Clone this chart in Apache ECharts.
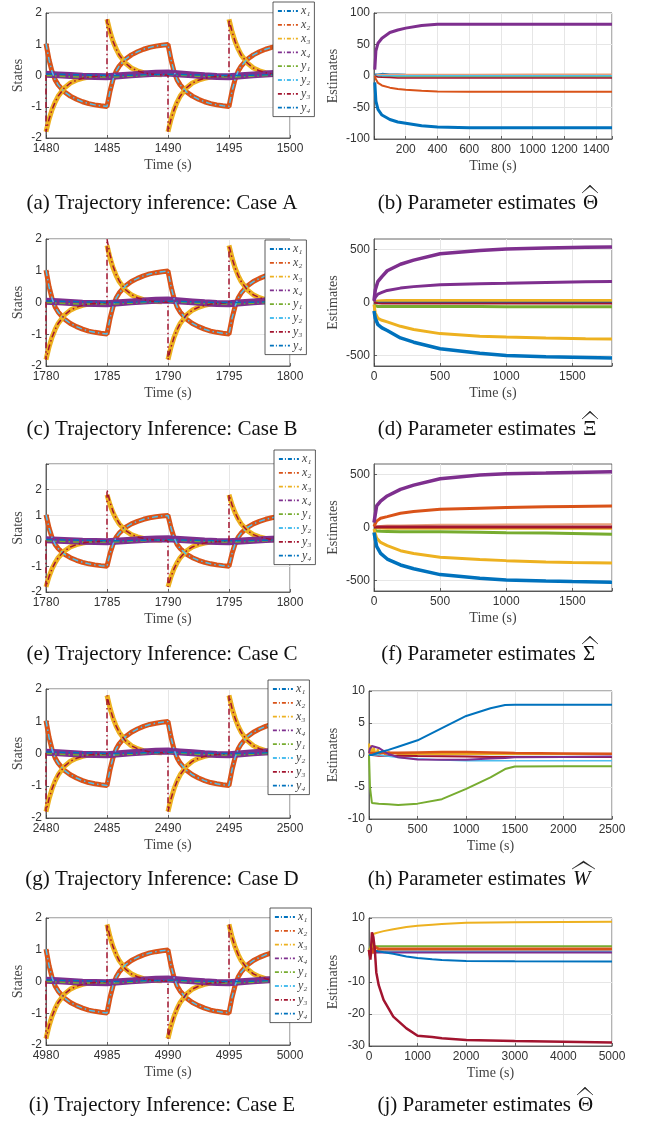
<!DOCTYPE html>
<html>
<head>
<meta charset="utf-8">
<script src="https://cdn.jsdelivr.net/npm/echarts@6.0.0/dist/echarts.min.js"></script>
<style>
html,body{margin:0;padding:0;background:#fff;}
#fig{width:646px;height:1121px;}
</style>
</head>
<body>
<div id="fig"></div>
<script>
"use strict";
// matlab default colour order
var C_BLUE = '#0072BD', C_ORANGE = '#D95319', C_YELLOW = '#EDB120', C_PURPLE = '#7E2F8E',
    C_GREEN = '#77AC30', C_CYAN = '#4DBEEE', C_WINE = '#A2142F';
var AX = '#404040', GRIDC = '#e6e6e6';

/* ---------- trajectory plots (left column) ---------- */
// seconds after the start of each 20 s window (repeated time = jump)
var tFast = [0,0,0.25,0.5,0.75,1,1.5,2,2.5,3,3.5,4,4.5,
             5,5,5.25,5.5,5.75,6,6.5,7,7.5,8,8.5,9,9.5,
             10,10,10.25,10.5,10.75,11,11.5,12,12.5,13,13.5,14,14.5,
             15,15,15.25,15.5,15.75,16,16.5,17,17.5,18,18.5,19,19.5,
             20];
var x2Vals = [1.02,1.02,0.5,0.12,-0.14,-0.3,-0.52,-0.66,-0.76,-0.84,-0.9,-0.94,-0.97,
              -0.99,-0.99,-0.5,-0.12,0.14,0.3,0.52,0.66,0.76,0.84,0.9,0.94,0.97,
              0.99,0.99,0.5,0.12,-0.14,-0.3,-0.52,-0.66,-0.76,-0.84,-0.9,-0.94,-0.97,
              -0.99,-0.99,-0.5,-0.12,0.14,0.3,0.52,0.66,0.76,0.84,0.9,0.94,0.97,
              0.99];
var x3Vals = [null,-1.8,-1.4,-1.09,-0.85,-0.66,-0.4,-0.24,-0.15,-0.09,-0.05,-0.03,-0.02,
              null,1.8,1.4,1.09,0.85,0.66,0.4,0.24,0.15,0.09,0.05,0.03,0.02,
              null,-1.8,-1.4,-1.09,-0.85,-0.66,-0.4,-0.24,-0.15,-0.09,-0.05,-0.03,-0.02,
              null,1.8,1.4,1.09,0.85,0.66,0.4,0.24,0.15,0.09,0.05,0.03,0.02,
              0.01];
var y3ValsA = [0.02,-1.8,-1.4,-1.09,-0.85,-0.66,-0.4,-0.24,-0.15,-0.09,-0.05,-0.03,-0.02,
               -0.01,1.8,1.4,1.09,0.85,0.66,0.4,0.24,0.15,0.09,0.05,0.03,0.02,
               0.01,-1.8,-1.4,-1.09,-0.85,-0.66,-0.4,-0.24,-0.15,-0.09,-0.05,-0.03,-0.02,
               -0.01,1.8,1.4,1.09,0.85,0.66,0.4,0.24,0.15,0.09,0.05,0.03,0.02,
               0.01];
var y3ValsB = [0.02,-1.8,-1.4,-1.09,-0.85,-0.66,-0.4,-0.24,-0.15,-0.09,-0.05,-0.03,-0.02,
               -0.01,2.0,1.5,1.14,0.88,0.68,0.41,0.25,0.15,0.09,0.05,0.03,0.02,
               0.01,-1.8,-1.4,-1.09,-0.85,-0.66,-0.4,-0.24,-0.15,-0.09,-0.05,-0.03,-0.02,
               -0.01,1.8,1.4,1.09,0.85,0.66,0.4,0.24,0.15,0.09,0.05,0.03,0.02,
               0.01];
var tSlow = [0,1,2,3,4,5,6,7,8,9,10,11,12,13,14,15,16,17,18,19,20];
var x1Vals = [0.06,0.05,0.03,0.02,0.01,0,-0.01,0,0.02,0.04,0.05,0.04,0.02,0.01,0,-0.01,0,0.02,0.03,0.05,0.06];
var x4Vals = [0.04,0.02,0,-0.02,-0.03,-0.04,-0.01,0.02,0.05,0.07,0.08,0.05,0.02,-0.01,-0.03,-0.04,-0.01,0.02,0.05,0.07,0.08];
var y1Vals = [0,-0.02,-0.04,-0.05,-0.05,-0.05,-0.04,-0.02,0,0.02,0.03,0.01,-0.01,-0.03,-0.04,-0.05,-0.04,-0.02,0,0.02,0.03];
var y4Vals = [0.05,0.04,0.03,0.02,0.01,0,0,0.01,0.02,0.03,0.04,0.03,0.02,0.01,0,0,0,0.01,0.02,0.04,0.05];
var stateNames = ['x\u2081','x\u2082','x\u2083','x\u2084','y\u2081','y\u2082','y\u2083','y\u2084'];
var windowStarts = [1480, 1780, 1780, 2480, 4980];

/* ---------- parameter estimate plots (right column) ---------- */
// (b) Theta, case A
var tThA = [5, 12, 25, 50, 100, 150, 200, 300, 400, 600, 1000, 1500];
var thA_purple = [10, 40, 52, 60, 69, 73, 76, 80, 82, 82, 82, 82];
var thA_blue = [-10, -40, -53, -62, -69, -73, -75, -79, -81, -82, -82, -82];
var thA_orange = [0, -5, -11, -15, -18.5, -20.5, -22, -23.5, -24.5, -25, -25, -25];
var thA_blue2 = [2, 3, 2, 3, 2, 2, 1.5, 1, 0.5, 0, 0, 0];
var thA_orange2 = [0, 1, 1.5, 2, 2, 2, 2, 2, 2, 2, 2.5, 2.5];
var thA_wine = [0, -1, -1.5, -2, -2.5, -3, -3, -3, -3, -3, -3, -3];
var thA_green = [0, -0.5, -1, -1, -1, -1, -1, -1, -1, -1, -1, -1];
var thA_cyan = [0, 0, 0, 0.5, 0.5, 0.5, 0.5, 0.5, 0.5, 0.5, 0.5, 0.5];
// (d) Xi
var tXi = [0, 10, 30, 60, 100, 200, 300, 500, 800, 1000, 1300, 1600, 1800];
var xi_purple1 = [20, 120, 200, 245, 300, 361, 400, 460, 492, 506, 515, 522, 525];
var xi_purple2 = [10, 50, 80, 95, 114, 136, 150, 167, 177, 182, 190, 195, 198];
var xi_yellow1 = [0, 10, 15, 17, 18, 18, 18, 18, 18, 18, 18, 18, 18];
var xi_orange = [0, 3, 5, 5, 6, 6, 6, 6, 6, 6, 6, 6, 6];
var xi_blue1 = [0, -3, -3, -3, -3, -3, -3, -3, -3, -3, -3, -3, -3];
var xi_wine = [0, -5, -8, -9, -9, -9, -9, -9, -9, -9, -9, -9, -9];
var xi_green = [-25, -35, -38, -38, -38, -38, -38, -38, -38, -39, -39, -40, -40];
var xi_yellow2 = [-20, -100, -150, -168, -183, -225, -255, -294, -318, -326, -335, -342, -345];
var xi_blue2 = [-80, -150, -210, -240, -265, -335, -375, -437, -480, -500, -512, -520, -525];
// (f) Sigma
var tSg = [0, 20, 50, 100, 200, 300, 500, 800, 1000, 1300, 1500, 1800];
var sg_purple = [47, 204, 250, 298, 360, 400, 461, 495, 508, 515, 520, 527];
var sg_orange = [10, 60, 88, 103, 135, 152, 172, 183, 188, 195, 199, 204];
var sg_orange2 = [0, 10, 15, 20, 20, 22, 25, 25, 28, 28, 30, 30];
var sg_wine = [0, 5, 5, 5, 5, 5, 5, 5, 5, 5, 5, 5];
var sg_yellow1 = [0, -5, -8, -10, -10, -10, -10, -10, -10, -10, -10, -10];
var sg_green = [-20, -33, -36, -37, -39, -40, -41, -46, -50, -53, -56, -63];
var sg_yellow2 = [-15, -100, -141, -172, -219, -245, -282, -302, -313, -325, -330, -335];
var sg_blue = [-47, -179, -244, -298, -354, -390, -445, -480, -495, -505, -510, -517];
// (h) W
var tW = [0, 10, 30, 50, 100, 200, 300, 500, 750, 1000, 1250, 1400, 1500, 2000, 2500];
var w_blue = [0, 0, 0, 0.1, 0.4, 0.8, 1.3, 2.3, 4.2, 6.1, 7.3, 7.8, 7.85, 7.85, 7.85];
var w_green = [0, -5, -7.5, -7.5, -7.6, -7.7, -7.8, -7.6, -6.9, -5.3, -3.5, -2.2, -1.8, -1.75, -1.75];
var w_purple = [0.3, 1.0, 1.4, 1.45, 1.1, 0.15, -0.35, -0.7, -0.75, -0.75, -0.55, -0.45, -0.35, -0.3, -0.25];
var w_cyan = [0, 0, 0, 0, 0, -0.2, -0.4, -0.6, -0.8, -0.9, -0.9, -0.9, -0.9, -0.9, -0.9];
var w_orange = [0.2, 0.3, 0.3, 0.3, 0.3, 0.35, 0.35, 0.4, 0.45, 0.45, 0.4, 0.35, 0.3, 0.25, 0.2];
var w_wine = [0, 0, 0, 0, -0.1, -0.1, -0.1, -0.15, -0.2, -0.25, -0.3, -0.3, -0.3, -0.3, -0.3];
var tWy = [0, 10, 20, 35, 50, 70, 90, 110, 140, 170, 200, 230, 260, 300, 2500];
var w_yellow = [1.8, -0.1, 1.5, 0.0, 1.2, -0.1, 0.9, 0.0, 0.7, 0.0, 0.5, 0.1, 0.3, 0.15, 0.15];
// (j) Theta, case E
var tThE = [0, 30, 60, 90, 120, 150, 200, 300, 500, 770, 1000, 1300, 1500, 2000, 3000, 5000];
var thE_wine = [0, -3, 5.5, 4, 0, -7, -11, -15.6, -20.8, -24.5, -26.8, -27.2, -27.6, -28.1, -28.4, -28.9];
var thE_yellow = [0, 0.5, 1, 5, 5.2, 5.3, 5.5, 5.9, 6.5, 7.2, 7.6, 7.9, 8.1, 8.5, 8.7, 8.8];
var thE_green = [0, 1.2, 1.2, 1.2, 1.2, 1.2, 1.2, 1.2, 1.2, 1.2, 1.2, 1.2, 1.2, 1.2, 1.2, 1.2];
var thE_blue = [0, 0, 0, -0.1, -0.2, -0.3, -0.4, -0.7, -1.2, -2, -2.5, -2.9, -3.1, -3.4, -3.5, -3.6];
var thE_orange = [0, -2, 1.5, -1, 1, 0.5, 0.3, 0.3, 0.3, 0.3, 0.3, 0.3, 0.3, 0.3, 0.3, 0.3];
var thE_cyan = [0, -0.3, -0.5, -0.5, -0.5, -0.5, -0.5, -0.5, -0.5, -0.5, -0.5, -0.5, -0.5, -0.5, -0.5, -0.5];
var thE_purple = [0, -0.5, -0.8, -0.8, -0.8, -0.8, -0.8, -0.8, -0.8, -0.8, -0.8, -0.8, -0.8, -0.8, -0.8, -0.8];

/* ---------- layout ---------- */
var grids = [
    {left: 46, top: 13, width: 244, height: 125},   // a
    {left: 374, top: 13, width: 238, height: 126},  // b
    {left: 46, top: 239, width: 244, height: 127},  // c
    {left: 374, top: 239, width: 238, height: 127}, // d
    {left: 46, top: 464, width: 244, height: 128},  // e
    {left: 374, top: 464, width: 238, height: 127}, // f
    {left: 46, top: 689, width: 244, height: 129},  // g
    {left: 369, top: 691, width: 243, height: 128}, // h
    {left: 46, top: 918, width: 244, height: 127},  // i
    {left: 369, top: 918, width: 243, height: 128}  // j
];

function pairs(t, v, offset) {
    return t.map(function (ti, i) { return [ti + (offset || 0), v[i]]; });
}

var xAxes = [], yAxes = [], series = [], legends = [], graphics = [];

// axes are stored at the same index as their grid
function addAxes(gi, xo, yo) {
    xAxes[gi] = {
        type: 'value', gridIndex: gi, min: xo.min, max: xo.max, interval: xo.interval,
        name: 'Time (s)', nameLocation: 'middle', nameGap: 20,
        nameTextStyle: {fontFamily: 'Liberation Serif', fontSize: 14, color: '#444'},
        axisLine: {show: true, onZero: false, lineStyle: {color: AX, width: 0.8}},
        axisTick: {show: true, inside: true, length: 3, lineStyle: {color: AX, width: 0.8}},
        axisLabel: {fontFamily: 'Liberation Sans', fontSize: 12, color: '#333', margin: 5,
            formatter: xo.fmt || function (v) { return v; }},
        splitLine: {show: true, lineStyle: {color: GRIDC, width: 1}}
    };
    var y = {
        type: 'value', gridIndex: gi, min: yo.min, max: yo.max, interval: yo.interval,
        name: yo.name, nameLocation: 'middle', nameGap: yo.nameGap,
        nameTextStyle: {fontFamily: 'Liberation Serif', fontSize: 14, color: '#444'},
        axisLine: {show: true, onZero: false, lineStyle: {color: AX, width: 0.8}},
        axisTick: {show: true, inside: true, length: 3, lineStyle: {color: AX, width: 0.8}},
        axisLabel: {fontFamily: 'Liberation Sans', fontSize: 12, color: '#333', margin: 4,
            formatter: yo.fmt || function (v) { return v; }},
        splitLine: {show: true, lineStyle: {color: GRIDC, width: 1}}
    };
    if (yo.custom) {
        y.axisTick.customValues = yo.custom;
        y.axisLabel.customValues = yo.custom;
    }
    yAxes[gi] = y;
}

function addLine(gi, data, color, width, dashed, name) {
    series.push({
        type: 'line', name: name, xAxisIndex: gi, yAxisIndex: gi, data: data,
        symbol: 'none', showSymbol: false, silent: true, connectNulls: false,
        lineStyle: {color: color, width: width, type: dashed ? [6, 3, 1.5, 3] : 'solid'},
        itemStyle: {color: color}
    });
}

/* left column: trajectory inference */
var leftCfg = [
    {gi: 0, y3: y3ValsA, yMax: 2, legend: {left: 273, top: 2}},
    {gi: 2, y3: y3ValsB, yMax: 2, legend: {left: 265, top: 240}},
    {gi: 4, y3: y3ValsB, yMax: 3, legend: {left: 274, top: 450}},
    {gi: 6, y3: y3ValsA, yMax: 2, legend: {left: 268, top: 680}},
    {gi: 8, y3: y3ValsA, yMax: 2, legend: {left: 270, top: 908}}
];
leftCfg.forEach(function (c, k) {
    var s = windowStarts[k];
    addAxes(c.gi, {min: s, max: s + 20, interval: 5},
        {min: -2, max: c.yMax, interval: 1, name: 'States', nameGap: 21,
         fmt: function (v) { return v > 2 ? '' : v; }});
    addLine(c.gi, pairs(tSlow, x1Vals, s), C_BLUE, 2.5, false, stateNames[0]);
    addLine(c.gi, pairs(tFast, x2Vals, s), C_ORANGE, 5, false, stateNames[1]);
    addLine(c.gi, pairs(tFast, x3Vals, s), C_YELLOW, 5, false, stateNames[2]);
    addLine(c.gi, pairs(tSlow, x4Vals, s), C_PURPLE, 7, false, stateNames[3]);
    addLine(c.gi, pairs(tSlow, y1Vals, s), C_GREEN, 1.5, true, stateNames[4]);
    addLine(c.gi, pairs(tFast, x2Vals, s), C_CYAN, 1.5, true, stateNames[5]);
    addLine(c.gi, pairs(tFast, c.y3, s), C_WINE, 1.5, true, stateNames[6]);
    addLine(c.gi, pairs(tSlow, y4Vals, s), C_BLUE, 1.5, true, stateNames[7]);
    legends.push({
        orient: 'vertical', left: c.legend.left, top: c.legend.top,
        data: stateNames, selectedMode: false,
        itemWidth: 20, itemHeight: 9, itemGap: 1.8, padding: [3, 4, 3, 4],
        backgroundColor: '#fff', borderColor: '#333', borderWidth: 0.8,
        lineStyle: {width: 1.8, type: [4, 2, 1, 2]},
        itemStyle: {color: 'rgba(0,0,0,0)', borderWidth: 0},
        textStyle: {fontFamily: 'Liberation Serif', fontStyle: 'italic', fontSize: 12, lineHeight: 9,
            color: '#444', padding: [0, 0, 0, -2]}
    });
});

/* right column: parameter estimates */
var hide0 = function (v) { return (v === 0 || v === 1500) ? '' : v; };
var hideEnd = function (v) { return v === 1800 ? '' : v; };
addAxes(1, {min: 0, max: 1500, interval: 200, fmt: hide0},
    {min: -100, max: 100, interval: 50, name: 'Estimates', nameGap: 34});
[[thA_blue2, C_BLUE, 2.5], [thA_orange2, '#E8A07A', 2], [thA_green, C_GREEN, 1.5], [thA_cyan, C_CYAN, 1.5],
 [thA_wine, C_WINE, 1.5], [thA_orange, C_ORANGE, 2], [thA_blue, C_BLUE, 3], [thA_purple, C_PURPLE, 3]]
    .forEach(function (r) { addLine(1, pairs(tThA, r[0]), r[1], r[2], false); });

addAxes(3, {min: 0, max: 1800, interval: 500, fmt: hideEnd},
    {min: -600, max: 600, interval: 100, custom: [-500, 0, 500], name: 'Estimates', nameGap: 34});
[[xi_orange, C_ORANGE, 2], [xi_yellow1, C_YELLOW, 3], [xi_blue1, C_BLUE, 2], [xi_wine, C_WINE, 2],
 [xi_green, C_GREEN, 3], [xi_yellow2, C_YELLOW, 3], [xi_blue2, C_BLUE, 3.5],
 [xi_purple2, C_PURPLE, 3], [xi_purple1, C_PURPLE, 3.5]]
    .forEach(function (r) { addLine(3, pairs(tXi, r[0]), r[1], r[2], false); });

addAxes(5, {min: 0, max: 1800, interval: 500, fmt: hideEnd},
    {min: -600, max: 600, interval: 100, custom: [-500, 0, 500], name: 'Estimates', nameGap: 34});
[[sg_orange2, '#E8A07A', 2], [sg_yellow1, C_YELLOW, 2.5], [sg_wine, C_WINE, 3], [sg_green, C_GREEN, 3],
 [sg_yellow2, C_YELLOW, 3], [sg_blue, C_BLUE, 3.5], [sg_orange, C_ORANGE, 3], [sg_purple, C_PURPLE, 3.5]]
    .forEach(function (r) { addLine(5, pairs(tSg, r[0]), r[1], r[2], false); });

addAxes(7, {min: 0, max: 2500, interval: 500},
    {min: -10, max: 10, interval: 5, name: 'Estimates', nameGap: 29});
addLine(7, pairs(tWy, w_yellow), C_YELLOW, 2, false);
[[w_orange, C_ORANGE, 2.5], [w_wine, C_WINE, 2], [w_cyan, C_CYAN, 1.5], [w_purple, C_PURPLE, 2],
 [w_green, C_GREEN, 2], [w_blue, C_BLUE, 2]]
    .forEach(function (r) { addLine(7, pairs(tW, r[0]), r[1], r[2], false); });

addAxes(9, {min: 0, max: 5000, interval: 1000},
    {min: -30, max: 10, interval: 10, name: 'Estimates', nameGap: 29});
[[thE_green, C_GREEN, 2], [thE_cyan, C_CYAN, 2], [thE_purple, C_PURPLE, 2], [thE_blue, C_BLUE, 2],
 [thE_orange, C_ORANGE, 3], [thE_yellow, C_YELLOW, 2], [thE_wine, C_WINE, 2.5]]
    .forEach(function (r) { addLine(9, pairs(tThE, r[0]), r[1], r[2], false); });

/* captions */
var CAP_FONT = 'Liberation Serif';
var leftCaps = ['(a) Trajectory inference: Case A', '(c) Trajectory Inference: Case B',
    '(e) Trajectory Inference: Case C', '(g) Trajectory Inference: Case D', '(i) Trajectory Inference: Case E'];
var capY = [203, 429, 654, 879, 1105];
leftCaps.forEach(function (txt, k) {
    graphics.push({type: 'text', x: 162, y: capY[k],
        style: {text: txt, fontFamily: CAP_FONT, fontSize: 21, fill: '#111',
            textAlign: 'center', textVerticalAlign: 'middle'}});
});
var rightCaps = [
    {txt: '(b) Parameter estimates', sym: '\u0398', x: 576, italic: false},
    {txt: '(d) Parameter estimates', sym: '\u039E', x: 576, italic: false},
    {txt: '(f) Parameter estimates', sym: '\u03A3', x: 576, italic: false},
    {txt: '(h) Parameter estimates', sym: 'W', x: 566, italic: true},
    {txt: '(j) Parameter estimates', sym: '\u0398', x: 571, italic: false}
];
rightCaps.forEach(function (c, k) {
    var y = capY[k];
    graphics.push({type: 'text', x: c.x, y: y,
        style: {text: c.txt, fontFamily: CAP_FONT, fontSize: 21, fill: '#111',
            textAlign: 'right', textVerticalAlign: 'middle'}});
    var sx = c.x + 7, sw = c.italic ? 21 : 14;
    graphics.push({type: 'text', x: sx, y: y,
        style: {text: c.sym, fontFamily: CAP_FONT, fontSize: 21, fill: '#111',
            fontStyle: c.italic ? 'italic' : 'normal',
            textAlign: 'left', textVerticalAlign: 'middle'}});
    var hb = y - 10, ha = y - 18;
    graphics.push({type: 'polygon', shape: {points: [[sx - 1, hb], [sx + sw / 2, ha], [sx + sw + 1, hb], [sx + sw / 2, ha + 1.6]]},
        style: {fill: '#111', stroke: '#111', lineWidth: 0.4}});
});

var chart = echarts.init(document.getElementById('fig'), null, {renderer: 'canvas'});
chart.setOption({
    animation: false,
    backgroundColor: '#fff',
    grid: grids.map(function (g) {
        return {left: g.left, top: g.top, width: g.width, height: g.height, show: true,
            borderColor: AX, borderWidth: 0.8, containLabel: false};
    }),
    xAxis: xAxes,
    yAxis: yAxes,
    legend: legends,
    series: series,
    graphic: graphics
});
</script>
</body>
</html>
